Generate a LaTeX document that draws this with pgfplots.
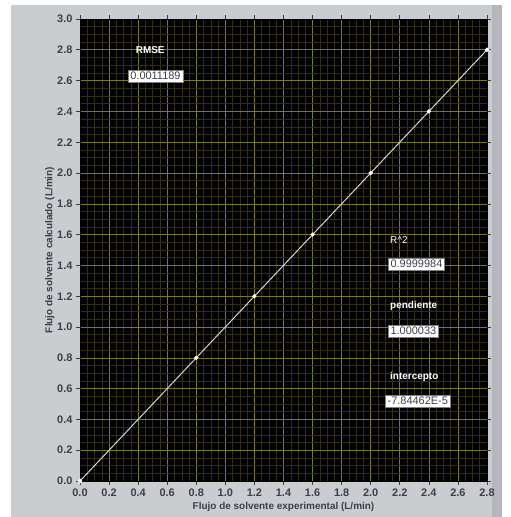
\documentclass[border=0pt]{standalone}
\usepackage{pgfplots}
\pgfplotsset{compat=1.18}
\usepackage{fontspec}
\setmainfont{Liberation Sans}
\definecolor{panel}{HTML}{C9CDD0}
\definecolor{panelEdge}{HTML}{B4B8BC}
\definecolor{gridmaj}{HTML}{7A7A26}
\definecolor{gridmin}{HTML}{303010}
\definecolor{labtext}{HTML}{3A404C}
\definecolor{linec}{HTML}{D8D8D0}
\begin{document}
\begin{tikzpicture}
\fill[white] (0bp,0bp) rectangle (511bp,517bp);
\fill[panel] (11bp,0bp) rectangle (502bp,512bp);
\fill[panelEdge] (492bp,0bp) rectangle (502bp,512bp);
\begin{axis}[
  at={(80bp,36bp)}, anchor=south west,
  scale only axis, width=407bp, height=462bp,
  xmin=0, xmax=2.8, ymin=0, ymax=3.0,
  axis background/.style={fill=black},
  xtick={0,0.2,0.4,0.6,0.8,1.0,1.2,1.4,1.6,1.8,2.0,2.2,2.4,2.6,2.8},
  ytick={0,0.2,0.4,0.6,0.8,1.0,1.2,1.4,1.6,1.8,2.0,2.2,2.4,2.6,2.8,3.0},
  minor tick num=3,
  grid=both,
  major grid style={color=gridmaj, line width=0.6pt},
  minor grid style={color=gridmin, line width=0.5pt},
  tick align=outside,
  major tick length=4bp, minor tick length=0pt,
  tick style={color=labtext, line width=0.6pt},
  axis line style={draw=black},
  xticklabel style={/pgf/number format/fixed, /pgf/number format/fixed zerofill, /pgf/number format/precision=1, font=\bfseries\fontsize{11}{12}\selectfont, text=labtext},
  yticklabel style={/pgf/number format/fixed, /pgf/number format/fixed zerofill, /pgf/number format/precision=1, font=\bfseries\fontsize{11}{12}\selectfont, text=labtext},
  /pgf/number format/assume math mode=true,
  xlabel={Flujo de solvente experimental (L/min)},
  ylabel={Flujo de solvente calculado (L/min)},
  xlabel style={font=\bfseries\fontsize{10}{11}\selectfont, text=labtext, yshift=1bp},
  ylabel style={font=\bfseries\fontsize{10}{11}\selectfont, text=labtext, yshift=-4bp},
  clip=false,
]
\addplot[color=linec, line width=1pt, mark=*, mark size=1.6bp, mark options={fill=white, draw=white}]
  coordinates {(0,0) (0.8,0.8) (1.2,1.2) (1.6,1.6) (2.0,2.0) (2.4,2.4) (2.8,2.8)};
\node[anchor=west, text=white, font=\bfseries\fontsize{10}{11}\selectfont] at (axis cs:0.36,2.80) {RMSE};
\node[anchor=west, fill=white, draw=gray, inner sep=2.2bp, text=labtext, font=\fontsize{11}{12}\selectfont] at (axis cs:0.33,2.63) {0.0011189};
\node[anchor=west, text=white, font=\fontsize{10}{11}\selectfont] at (axis cs:2.11,1.565) {R\textasciicircum 2};
\node[anchor=west, fill=white, draw=gray, inner sep=2.2bp, text=labtext, font=\fontsize{11}{12}\selectfont] at (axis cs:2.12,1.41) {0.9999984};
\node[anchor=west, text=white, font=\bfseries\fontsize{10}{11}\selectfont] at (axis cs:2.11,1.14) {pendiente};
\node[anchor=west, fill=white, draw=gray, inner sep=2.2bp, text=labtext, font=\fontsize{11}{12}\selectfont] at (axis cs:2.12,0.975) {1.000033};
\node[anchor=west, text=white, font=\bfseries\fontsize{10}{11}\selectfont] at (axis cs:2.11,0.675) {intercepto};
\node[anchor=west, fill=white, draw=gray, inner sep=2.2bp, text=labtext, font=\fontsize{11}{12}\selectfont] at (axis cs:2.10,0.52) {-7.84462E-5};
\end{axis}
\end{tikzpicture}
\end{document}
